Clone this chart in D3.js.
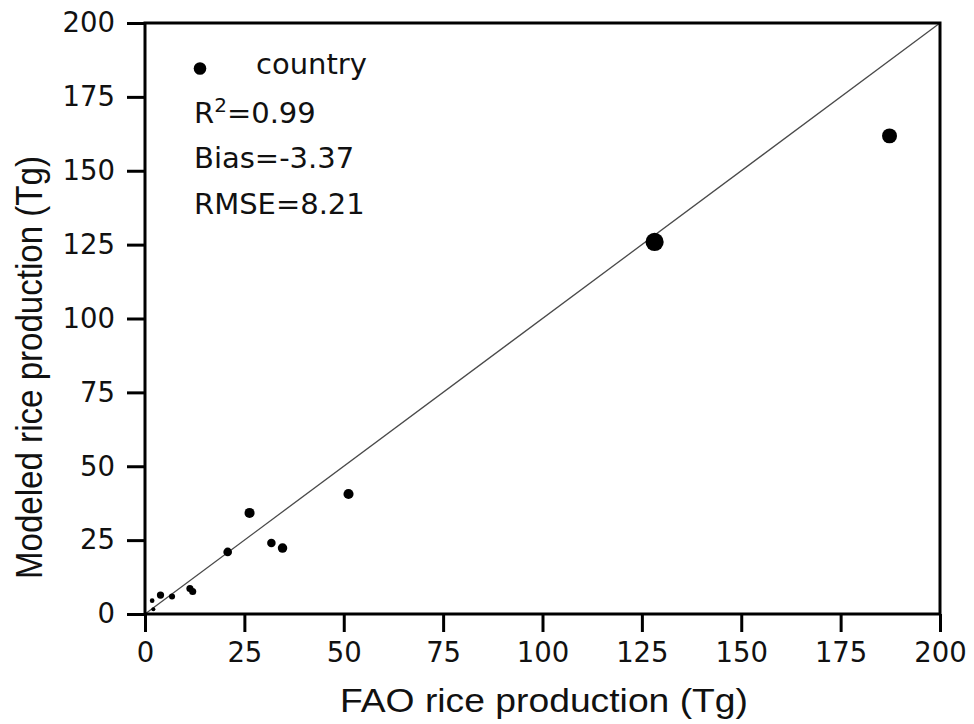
<!DOCTYPE html>
<html><head><meta charset="utf-8">
<script src="https://cdn.jsdelivr.net/npm/d3@7"></script>
<style>body{margin:0;background:#fff}</style>
</head><body>
<svg id="c" width="974" height="724"></svg>
<script>
// Data
const faoProduction   = [187.3, 128.2, 51.2, 26.3, 31.8, 34.6, 20.8, 11.3, 12.0, 3.9, 6.8, 1.8, 2.1];
const modeledProduction = [161.8, 125.9, 40.6, 34.2, 24.0, 22.3, 21.0, 8.6, 7.6, 6.4, 5.9, 4.5, 1.6];
const harvestedArea   = [29.7, 44.0, 13.6, 13.6, 9.6, 12.0, 10.0, 6.7, 6.7, 7.0, 4.9, 2.9, 2.2];
const tickValues = [0, 25, 50, 75, 100, 125, 150, 175, 200];
const r2Value = "=0.99";
const statsLines = ["Bias=-3.37", "RMSE=8.21"];
const legendLabel = "country";
const xTitle = "FAO rice production (Tg)";
const yTitle = "Modeled rice production (Tg)";

const svg = d3.select("#c");
const L = 145, R = 940, T = 23, B = 614;
const x = d3.scaleLinear().domain([0, 200]).range([L, R]);
const y = d3.scaleLinear().domain([0, 200]).range([B, T]);
const r = d3.scaleSqrt().domain([0, 44]).range([0, 9.1]);
const tickFont = "'DejaVu Sans', sans-serif";

// 1:1 line
svg.append("line")
  .attr("x1", x(0)).attr("y1", y(0)).attr("x2", x(200)).attr("y2", y(200))
  .attr("stroke", "#4a4a4a").attr("stroke-width", 1.3);

// points
const pts = faoProduction.map((v, i) => ({x: v, y: modeledProduction[i], a: harvestedArea[i]}));
svg.append("g").selectAll("circle").data(pts).join("circle")
  .attr("cx", d => x(d.x)).attr("cy", d => y(d.y)).attr("r", d => r(d.a))
  .attr("fill", "#000");

// axes
const xAxis = d3.axisBottom(x).tickValues(tickValues).tickSize(18).tickPadding(10).tickSizeOuter(0);
const yAxis = d3.axisLeft(y).tickValues(tickValues).tickSize(18).tickPadding(12).tickSizeOuter(0);
const gx = svg.append("g").attr("transform", `translate(0,${B})`).call(xAxis);
const gy = svg.append("g").attr("transform", `translate(${L},0)`).call(yAxis);
[gx, gy].forEach(g => {
  g.select(".domain").remove();
  g.selectAll(".tick line").attr("stroke", "#000").attr("stroke-width", 3);
  g.selectAll(".tick text").attr("fill", "#111").style("font-family", tickFont).style("font-size", "27.5px");
});
gx.selectAll(".tick text").attr("dy", "0.72em");

// frame
svg.append("rect").attr("x", L).attr("y", T).attr("width", R - L).attr("height", B - T)
  .attr("fill", "none").attr("stroke", "#000").attr("stroke-width", 3);

// axis titles
svg.append("text").attr("x", 340).attr("y", 712)
  .attr("textLength", 408).attr("lengthAdjust", "spacingAndGlyphs")
  .style("font-family", "'Liberation Sans', Arial, sans-serif").style("font-size", "33px")
  .attr("fill", "#111").text(xTitle);
svg.append("text").attr("transform", "translate(42,579) rotate(-90)")
  .attr("textLength", 423).attr("lengthAdjust", "spacingAndGlyphs")
  .style("font-family", "'Liberation Sans', Arial, sans-serif").style("font-size", "37px")
  .attr("fill", "#111").text(yTitle);

// legend
svg.append("circle").attr("cx", 200).attr("cy", 68.5).attr("r", 6.3).attr("fill", "#000");
svg.append("text").attr("x", 256).attr("y", 74).style("font-family", tickFont).style("font-size", "29px")
  .attr("fill", "#111").text(legendLabel);
const r2 = svg.append("text").attr("x", 194).attr("y", 122.5)
  .style("font-family", tickFont).style("font-size", "29px").attr("fill", "#111");
r2.append("tspan").text("R");
r2.append("tspan").attr("dy", -11).style("font-size", "20px").text("2");
r2.append("tspan").attr("dy", 11).text(r2Value);
svg.append("g").selectAll("text").data(statsLines).join("text")
  .attr("x", 194).attr("y", (d, i) => 168 + i * 45.5)
  .style("font-family", tickFont).style("font-size", "29px").attr("fill", "#111")
  .text(d => d);
</script>
</body></html>
